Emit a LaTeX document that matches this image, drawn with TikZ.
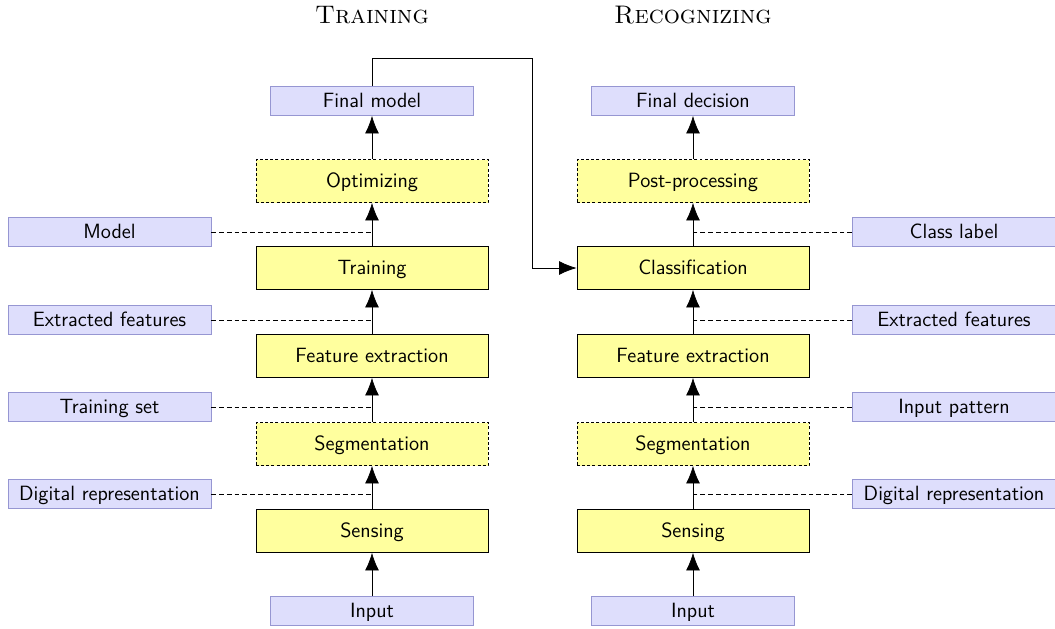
\documentclass[tikz,border=0pt]{standalone}
\usetikzlibrary{arrows.meta}
\newlength\px
\setlength\px{0.5431pt}
\definecolor{lav}{RGB}{222,222,252}
\definecolor{lavborder}{RGB}{150,150,210}
\definecolor{yel}{RGB}{255,255,158}
\begin{document}
\begin{tikzpicture}[x=\px,y=-\px,
  font=\sffamily\fontsize{11.2}{13}\selectfont,
  procbox/.style={draw=black,fill=yel,minimum width=232\px,minimum height=43\px,inner sep=0pt,text height=1.75ex,text depth=0.2ex},
  optbox/.style={procbox,dash pattern=on 1.6pt off 1.2pt},
  databox/.style={draw=lavborder,fill=lav,minimum width=203\px,minimum height=29\px,inner sep=0pt,text height=1.75ex,text depth=0.2ex},
  flow/.style={-{Latex[length=9.5pt,width=7.5pt]}},
  link/.style={dash pattern=on 2.6pt off 1.6pt},
  title/.style={font=\rmfamily\scshape\fontsize{13.8}{16}\selectfont}
]
\useasboundingbox (0,0) rectangle (1055,628);
% titles
\node[title] (t1) at (372,15) {Training};
\node[title] (t2) at (693,15) {Recognizing};
% training column
\node[databox] (lfinal) at (372,101) {Final model};
\node[optbox] (lopt) at (372,181) {Optimizing};
\node[procbox] (ltrain) at (372,268) {Training};
\node[procbox] (lfeat) at (372,356) {Feature extraction};
\node[optbox] (lseg) at (372,444) {Segmentation};
\node[procbox] (lsens) at (372,531) {Sensing};
\node[databox] (linput) at (372,611) {Input};
% recognizing column
\node[databox] (rfinal) at (693,101) {Final decision};
\node[optbox] (rpost) at (693,181) {Post-processing};
\node[procbox] (rclass) at (693,268) {Classification};
\node[procbox] (rfeat) at (693,356) {Feature extraction};
\node[optbox] (rseg) at (693,444) {Segmentation};
\node[procbox] (rsens) at (693,531) {Sensing};
\node[databox] (rinput) at (693,611) {Input};
% side labels left
\node[databox] (lmodel) at (109.5,232) {Model};
\node[databox] (lext) at (109.5,320) {Extracted features};
\node[databox] (lset) at (109.5,407) {Training set};
\node[databox] (ldig) at (109.5,494) {Digital representation};
% side labels right
\node[databox] (rlab) at (954,232) {Class label};
\node[databox] (rext) at (954,320) {Extracted features};
\node[databox] (rpat) at (954,407) {Input pattern};
\node[databox] (rdig) at (954,494) {Digital representation};
% arrows
\foreach \a/\b in {linput/lsens,lsens/lseg,lseg/lfeat,lfeat/ltrain,ltrain/lopt,lopt/lfinal,
                   rinput/rsens,rsens/rseg,rseg/rfeat,rfeat/rclass,rclass/rpost,rpost/rfinal}
  \draw[flow] (\a.north) -- (\b.south);
% dashed links
\foreach \s/\c in {lmodel/ltrain,lext/ltrain,lset/ltrain,ldig/ltrain}
  \draw[link] (\s.east) -- (\s.east -| \c.north);
\foreach \s/\c in {rlab/rclass,rext/rclass,rpat/rclass,rdig/rclass}
  \draw[link] (\s.west) -- (\s.west -| \c.north);
% feedback
\coordinate (c1) at (532,58);
\draw[flow] (lfinal.north) |- (c1) |- (rclass.west);
\end{tikzpicture}
\end{document}
